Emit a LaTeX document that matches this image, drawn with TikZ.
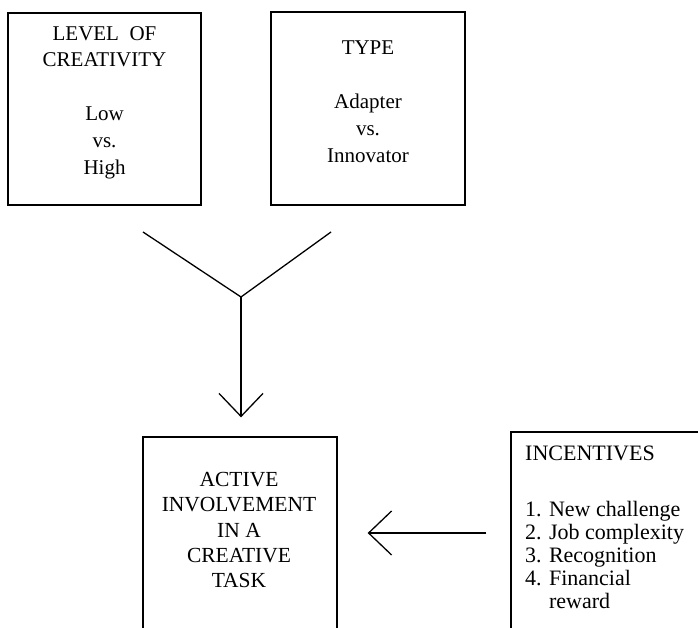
\documentclass[tikz,border=0pt]{standalone}
\usepackage{fontspec}
\setmainfont{Liberation Serif}
\usetikzlibrary{arrows.meta}

\begin{document}
\begin{tikzpicture}[x=1pt, y=-1pt,
    frame/.style={draw, line width=1.3pt, inner sep=0pt},
    boxtext/.style={font=\fontsize{21}{26.8}\selectfont, align=center, inner sep=0pt, anchor=north},
    barb/.style={-{Straight Barb[length=23pt, width=44pt]}, line width=1.3pt}]

    \clip (0,0) rectangle (698,628);

    % Caixas de cima
    \node[frame, minimum width=193pt, minimum height=192pt] (level) at (104.5,109) {};
    \node[frame, minimum width=194pt, minimum height=193pt] (type) at (368,108.5) {};
    \node[boxtext] (leveltext) at (104.5,26) {LEVEL\ \ OF\\CREATIVITY\\[26.8pt]Low\\vs.\\High};
    \node[boxtext] (typetext) at (368,41) {TYPE\\[26.8pt]Adapter\\vs.\\Innovator};

    % Caixas de baixo
    \node[frame, minimum width=194pt, minimum height=210pt] (task) at (240,542) {};
    \node[boxtext, font=\fontsize{21.5}{25.3}\selectfont] (tasktext) at (239,472)
        {ACTIVE\\INVOLVEMENT\\IN A\\CREATIVE\\TASK};
    \node[frame, minimum width=209pt, minimum height=202pt] (incent) at (615.5,533) {};
    \node[boxtext, font=\fontsize{22}{22.9}\selectfont, align=left, anchor=north west] (incenttext) at (525,446)
        {INCENTIVES\\[33pt]1. New challenge\\2. Job complexity\\3. Recognition\\4. Financial\\\phantom{4. }reward};

    % Juncao em Y
    \coordinate (armL) at (143,232);
    \coordinate (armR) at (331,232);
    \coordinate (join) at (241,297);
    \path[draw, line width=1.3pt] (armL) -- (join) -- (armR);

    % Setas
    \path[barb, draw, shorten >=19pt] (join) -- (join |- task.north);
    \path[barb, draw, shorten <=24pt, shorten >=30pt] (incent.west) -- (incent.west -| task.east);

\end{tikzpicture}
\end{document}
